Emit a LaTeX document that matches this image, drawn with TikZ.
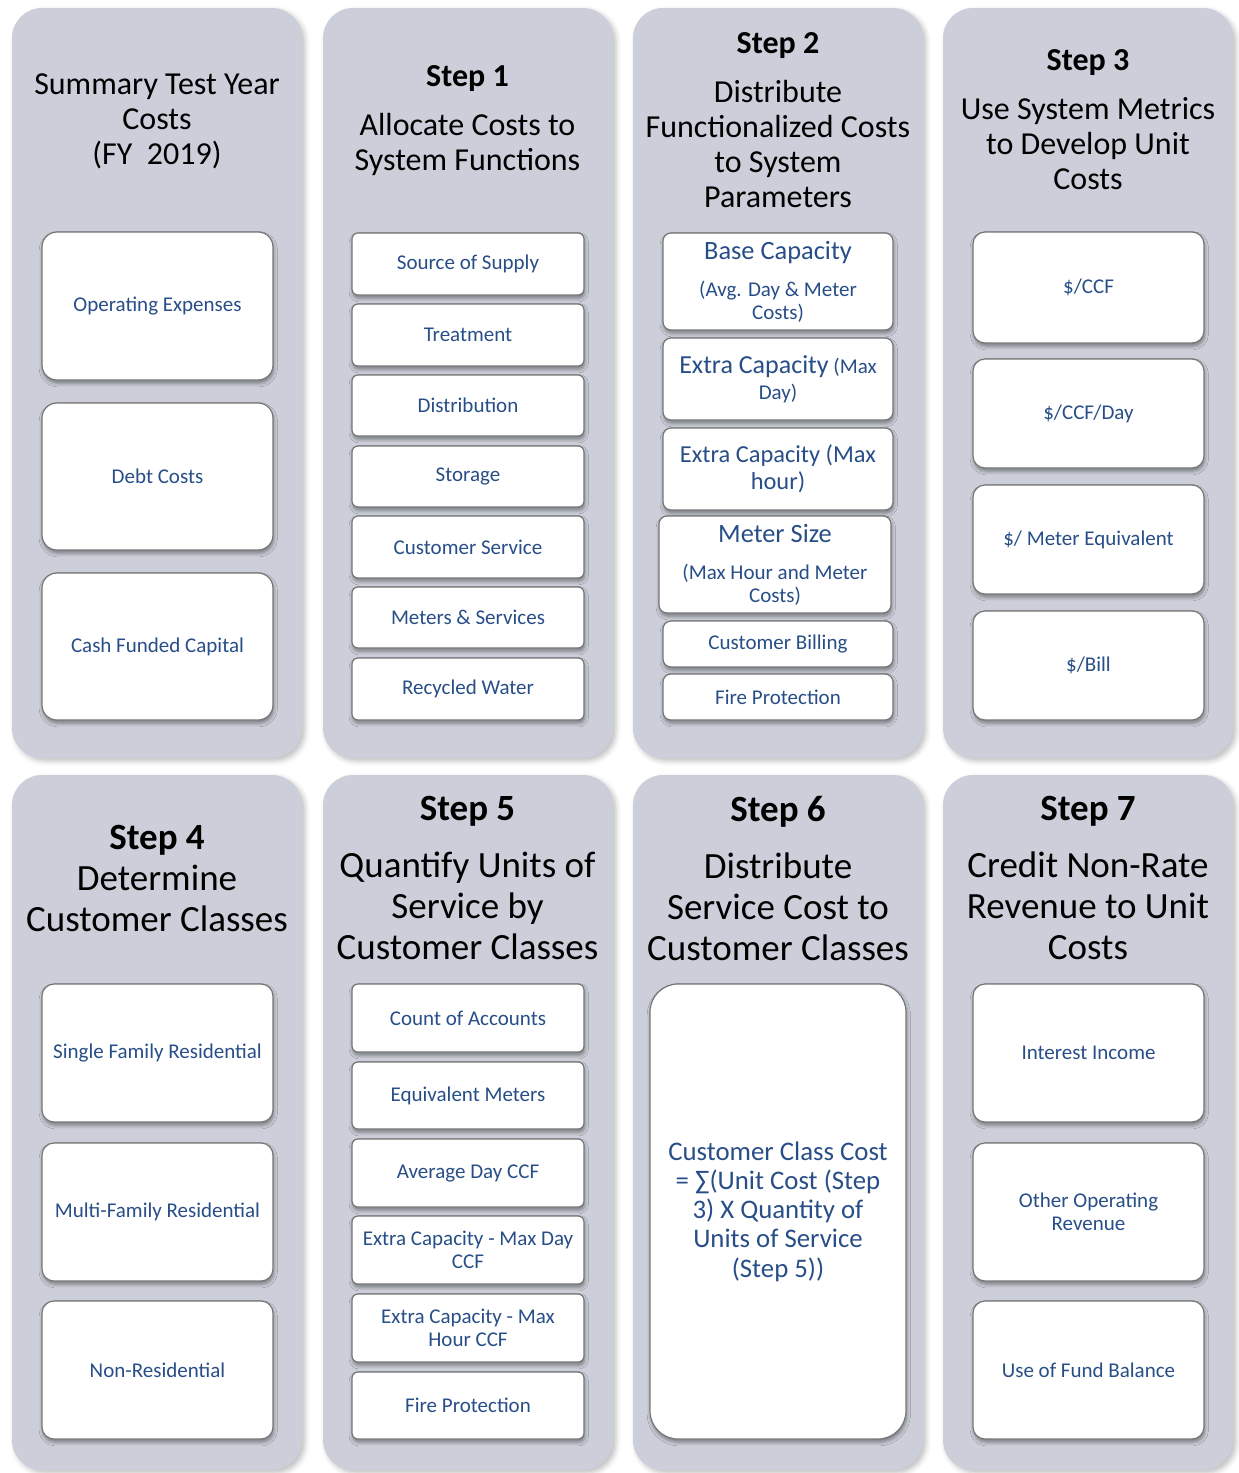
\documentclass[tikz,border=0pt]{standalone}
\usepackage{fontspec}
\setmainfont{Carlito}
\usetikzlibrary{shadows.blur}

\definecolor{panelfill}{RGB}{204,207,217}
\definecolor{boxtext}{RGB}{40,78,135}
\definecolor{boxline}{RGB}{118,118,118}

\tikzset{
  panel/.style={fill=panelfill, rounded corners=15pt, inner sep=0pt,
    blur shadow={shadow xshift=1.5pt, shadow yshift=-1.5pt, shadow opacity=25, shadow blur radius=2.5pt}},
  cell/.style={draw=boxline, line width=0.6pt, fill=white, text=boxtext, align=center,
    inner xsep=3pt, inner ysep=0pt, rounded corners=4pt,
    font=\fontsize{10.5}{11.5}\selectfont,
    blur shadow={shadow xshift=0.4pt, shadow yshift=-1.6pt, shadow opacity=40, shadow blur radius=1.8pt}},
  title/.style={align=center, text=black, font=\fontsize{16}{17.5}\selectfont},
  btitle/.style={align=center, text=black, font=\fontsize{18.5}{20.5}\selectfont},
}

% \panelbox{name}{x1}{y1}{x2}{y2}
\newcommand\panelbox[5]{%
  \node[panel, minimum width={(#4-#2)*0.5pt}, minimum height={(#5-#3)*0.5pt}]
    (#1) at ({(#2+#4)/2},{(#3+#5)/2}) {};}
% \cell[options]{name}{x1}{y1}{x2}{y2}{text}
\newcommand\cell[7][]{%
  \node[cell, #1, minimum width={(#5-#3)*0.5pt}, minimum height={(#6-#4)*0.5pt}]
    (#2) at ({(#3+#5)/2},{(#4+#6)/2}) {#7};}

\begin{document}
\begin{tikzpicture}[x=0.5pt, y=-0.5pt]
\useasboundingbox (0,0) rectangle (1238,1473);

% ---------- panels ----------
\panelbox{pa}{12}{8}{302}{758}
\panelbox{pb}{323}{8}{613}{758}
\panelbox{pc}{633}{8}{923}{758}
\panelbox{pd}{943}{8}{1233}{758}
\panelbox{pe}{12}{775}{302}{1470}
\panelbox{pf}{323}{775}{613}{1470}
\panelbox{pg}{633}{775}{923}{1470}
\panelbox{ph}{943}{775}{1233}{1470}

% ---------- titles, upper row ----------
\node[title] (ta) at (157,121.5) {Summary Test Year\\Costs\\(FY\ \ 2019)};
\node[title] (tb) at (467.5,121) {\bfseries Step 1\\[7pt]Allocate Costs to\\System Functions};
\node[title] (tc) at (778,120) {\bfseries Step 2\\[7pt]Distribute\\Functionalized Costs\\to System\\Parameters};
\node[title] (td) at (1088,120) {\bfseries Step 3\\[7pt]Use System Metrics\\to Develop Unit\\Costs};

% ---------- titles, lower row ----------
\node[btitle] (te) at (157,878) {\bfseries Step 4\\Determine\\Customer Classes};
\node[btitle] (tf) at (467.5,878) {\bfseries Step 5\\[8pt]Quantify Units of\\Service by\\Customer Classes};
\node[btitle] (tg) at (778,878) {\bfseries Step 6\\[8pt]Distribute\\Service Cost to\\Customer Classes};
\node[btitle] (th) at (1088,878) {\bfseries Step 7\\[8pt]Credit Non-Rate\\Revenue to Unit\\Costs};

% ---------- summary costs ----------
\cell[rounded corners=7.5pt]{a1}{42}{232}{273}{380}{Operating Expenses}
\cell[rounded corners=7.5pt]{a2}{42}{403}{273}{550}{Debt Costs}
\cell[rounded corners=7.5pt]{a3}{42}{573}{273}{720}{Cash Funded Capital}

% ---------- step 1 ----------
\cell[rounded corners=3pt]{b1}{352}{233}{584}{295}{Source of Supply}
\cell[rounded corners=3pt]{b2}{352}{304}{584}{366}{Treatment}
\cell[rounded corners=3pt]{b3}{352}{375}{584}{436}{Distribution}
\cell[rounded corners=3pt]{b4}{352}{446}{584}{507}{Storage}
\cell[rounded corners=3pt]{b5}{352}{516}{584}{578}{Customer Service}
\cell[rounded corners=3pt]{b6}{352}{587}{584}{648}{Meters \& Services}
\cell[rounded corners=3pt]{b7}{352}{658}{584}{720}{Recycled Water}

% ---------- step 2 ----------
\cell{c1}{663}{233}{893}{330}{{\fontsize{13.2}{14}\selectfont Base Capacity}\\[7pt](Avg. Day \& Meter\\Costs)}
\cell[font=\fontsize{10.5}{13}\selectfont]{c2}{663}{338}{893}{420}{{\fontsize{13}{14}\selectfont Extra Capacity} (Max\\Day)}
\cell[font=\fontsize{12.2}{13.5}\selectfont]{c3}{663}{428}{893}{510}{Extra Capacity (Max\\hour)}
\cell{c4}{659}{516}{891}{613}{{\fontsize{13.2}{14}\selectfont Meter Size}\\[7pt](Max Hour and Meter\\Costs)}
\cell{c5}{663}{621}{893}{667}{Customer Billing}
\cell{c6}{663}{674}{893}{720}{Fire Protection}

% ---------- step 3 ----------
\cell[rounded corners=6pt]{d1}{973}{232}{1204}{343}{\$/CCF}
\cell[rounded corners=6pt]{d2}{973}{359}{1204}{468}{\$/CCF/Day}
\cell[rounded corners=6pt]{d3}{973}{485}{1204}{594}{\$/ Meter Equivalent}
\cell[rounded corners=6pt]{d4}{973}{611}{1204}{720}{\$/Bill}

% ---------- step 4 ----------
\cell[rounded corners=6pt]{e1}{42}{984}{273}{1122}{Single Family Residential}
\cell[rounded corners=6pt]{e2}{42}{1143}{273}{1281}{Multi-Family Residential}
\cell[rounded corners=6pt]{e3}{42}{1301}{273}{1439}{Non-Residential}

% ---------- step 5 ----------
\cell[rounded corners=3pt]{f1}{352}{984}{584}{1052}{Count of Accounts}
\cell[rounded corners=3pt]{f2}{352}{1062}{584}{1129}{Equivalent Meters}
\cell[rounded corners=3pt]{f3}{352}{1139}{584}{1207}{Average Day CCF}
\cell[rounded corners=3pt]{f4}{352}{1216}{584}{1284}{Extra Capacity - Max Day\\CCF}
\cell[rounded corners=3pt]{f5}{352}{1294}{584}{1362}{Extra Capacity - Max\\Hour CCF}
\cell[rounded corners=3pt]{f6}{352}{1372}{584}{1439}{Fire Protection}

% ---------- step 6 ----------
\cell[rounded corners=14pt, font=\fontsize{13.4}{14.6}\selectfont]{g1}{650}{984}{906}{1439}{Customer Class Cost\\= ∑(Unit Cost (Step\\3) X Quantity of\\Units of Service\\(Step 5))}

% ---------- step 7 ----------
\cell[rounded corners=6pt]{h1}{973}{984}{1204}{1122}{Interest Income}
\cell[rounded corners=6pt]{h2}{973}{1143}{1204}{1281}{Other Operating\\Revenue}
\cell[rounded corners=6pt]{h3}{973}{1301}{1204}{1439}{Use of Fund Balance}
\end{tikzpicture}
\end{document}
